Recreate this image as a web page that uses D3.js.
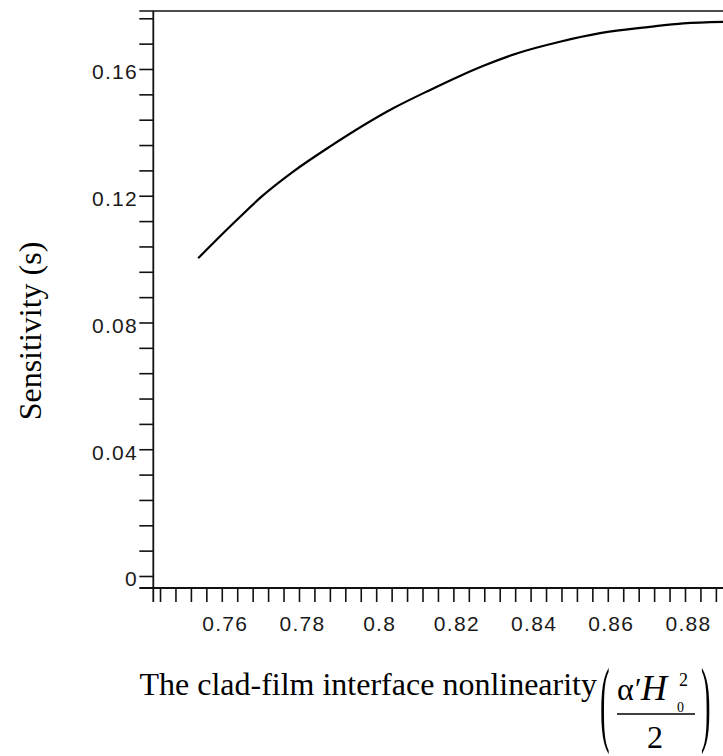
<!DOCTYPE html>
<html>
<head>
<meta charset="utf-8">
<script src="https://cdn.jsdelivr.net/npm/d3@7"></script>
<style>
  html, body { margin: 0; padding: 0; background: #fff; }
  svg { display: block; }
</style>
</head>
<body>
<svg id="chart" width="723" height="756"></svg>
<script>
// ---- data ----
const nonlinearity = [0.7539, 0.7630, 0.7703, 0.7785, 0.7880, 0.8044, 0.8140, 0.8217, 0.8278, 0.8364, 0.8476, 0.8580, 0.8709, 0.8796, 0.8899];
const sensitivity  = [0.1003, 0.1113, 0.1197, 0.1276, 0.1355, 0.1476, 0.1534, 0.1578, 0.1610, 0.1649, 0.1686, 0.1713, 0.1733, 0.1744, 0.1749];
const xMajorTicks = [0.76, 0.78, 0.80, 0.82, 0.84, 0.86, 0.88];
const xTickLabels = ["0.76", "0.78", "0.8", "0.82", "0.84", "0.86", "0.88"];
const yMajorTicks = [0, 0.04, 0.08, 0.12, 0.16];
const yTickLabels = ["0", "0.04", "0.08", "0.12", "0.16"];
const xMinorStep = 0.004;
const yMinorStep = 0.008;
const yTitle = "Sensitivity (s)";
const xTitle = "The clad-film interface nonlinearity";

const svg = d3.select("#chart");
const W = 723, H = 756;

const x = d3.scaleLinear().domain([0.74226, 0.9]).range([153.3, 762.2]);
const y = d3.scaleLinear().domain([-0.00379, 0.1783]).range([588, 11]);

const tickLen = 14;
const tickFont = "'Liberation Sans', Arial, sans-serif";
const serif = "'Liberation Serif', 'Times New Roman', serif";

const xTicksAll = d3.range(0.744, 0.8925, xMinorStep).map(v => +v.toFixed(3));
const yTicksAll = d3.range(0, 0.1781, yMinorStep).map(v => +v.toFixed(3));

const axisColor = "#111";

svg.append("defs").append("clipPath").attr("id", "clip")
  .append("rect").attr("x", 0).attr("y", 0).attr("width", W).attr("height", H);

const g = svg.append("g").attr("clip-path", "url(#clip)");

// x axis ticks
const xAxis = d3.axisBottom(x).tickValues(xTicksAll).tickSize(tickLen).tickFormat("");
const gx = g.append("g").attr("transform", `translate(0,${y.range()[0]})`).call(xAxis);
gx.select(".domain").remove();
gx.selectAll(".tick line").attr("stroke", axisColor).attr("stroke-width", 1.6);

// y axis ticks
const yAxis = d3.axisLeft(y).tickValues(yTicksAll).tickSize(tickLen).tickFormat("");
const gy = g.append("g").attr("transform", `translate(${x.range()[0]},0)`).call(yAxis);
gy.select(".domain").remove();
gy.selectAll(".tick line").attr("stroke", axisColor).attr("stroke-width", 1.6);

// frame lines
const x0 = x.range()[0], y0 = y.range()[0], yTop = y.range()[1];
g.append("line").attr("x1", x0 - tickLen).attr("x2", W + 5).attr("y1", y0).attr("y2", y0)
  .attr("stroke", axisColor).attr("stroke-width", 1.8);
g.append("line").attr("x1", x0).attr("x2", x0).attr("y1", yTop).attr("y2", y0 + tickLen)
  .attr("stroke", axisColor).attr("stroke-width", 1.8);
g.append("line").attr("x1", x0 - tickLen).attr("x2", W + 5).attr("y1", yTop).attr("y2", yTop)
  .attr("stroke", axisColor).attr("stroke-width", 1.6);

// tick labels
g.append("g").selectAll("text").data(xMajorTicks).join("text")
  .attr("x", d => x(d) + 3.5)
  .attr("y", 631)
  .attr("text-anchor", "middle")
  .attr("font-family", tickFont)
  .attr("font-size", 21)
  .attr("letter-spacing", 1.3)
  .attr("fill", "#1a1a1a")
  .text((d, i) => xTickLabels[i]);

g.append("g").selectAll("text").data(yMajorTicks).join("text")
  .attr("x", 138)
  .attr("y", d => y(d) + 10.5)
  .attr("text-anchor", "end")
  .attr("font-family", tickFont)
  .attr("font-size", 21)
  .attr("letter-spacing", 1.3)
  .attr("fill", "#1a1a1a")
  .text((d, i) => yTickLabels[i]);

// curve
const pts = nonlinearity.map((v, i) => [v, sensitivity[i]]);
const line = d3.line().x(d => x(d[0])).y(d => y(d[1])).curve(d3.curveMonotoneX);
g.append("path").datum(pts).attr("d", line)
  .attr("fill", "none").attr("stroke", "#000").attr("stroke-width", 2.2);

// y title
svg.append("text")
  .attr("transform", "translate(41,331) rotate(-90)")
  .attr("text-anchor", "middle")
  .attr("font-family", serif)
  .attr("font-size", 32)
  .attr("fill", "#000")
  .text(yTitle);

// x title
svg.append("text")
  .attr("x", 597).attr("y", 695)
  .attr("text-anchor", "end")
  .attr("font-family", serif)
  .attr("font-size", 32)
  .attr("fill", "#000")
  .text(xTitle);

// formula ( α'H0^2 / 2 )
const f = svg.append("g").attr("font-family", serif).attr("fill", "#000");
f.append("text").attr("transform", "translate(600,734) scale(0.9,3.0)")
  .attr("font-size", 32).text("(");
f.append("text").attr("transform", "translate(701,734) scale(0.9,3.0)")
  .attr("font-size", 32).text(")");
f.append("text").attr("x", 617).attr("y", 700).attr("font-size", 32).text("α");
f.append("text").attr("x", 635).attr("y", 698).attr("font-size", 30).text("′");
f.append("text").attr("x", 641).attr("y", 700).attr("font-size", 36).attr("font-style", "italic").text("H");
f.append("text").attr("x", 679).attr("y", 686).attr("font-size", 18).text("2");
f.append("text").attr("x", 677).attr("y", 712).attr("font-size", 14).text("0");
f.append("line").attr("x1", 617).attr("x2", 695).attr("y1", 714).attr("y2", 714)
  .attr("stroke", "#000").attr("stroke-width", 1.5);
f.append("text").attr("x", 655).attr("y", 748).attr("text-anchor", "middle").attr("font-size", 32).text("2");
</script>
</body>
</html>
